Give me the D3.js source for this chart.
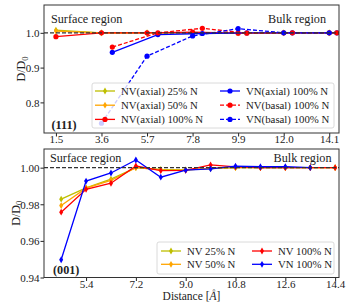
<!DOCTYPE html>
<html>
<head>
<meta charset="utf-8">
<script src="https://cdn.jsdelivr.net/npm/d3@7"></script>
<style>
  body { margin: 0; background: #fff; }
  svg text { font-family: "Liberation Serif", "Times New Roman", serif; fill: #222; }
</style>
</head>
<body>
<svg id="chart" width="357" height="308"></svg>
<script>
// ---- data ----
// (111) panel
const axialX = [1.5, 3.6, 5.7, 7.8, 9.9, 12.0, 14.1]
const basalX = [4.1, 6.2, 8.25, 10.3, 12.4, 14.45]
const vnBasalX = [3.6, 5.7, 7.8, 9.9, 12.0, 14.1]
const nvAxial25 = [1.008, 1.0, 1.0, 1.0, 1.0, 1.0, 1.0]
const nvAxial50 = [1.005, 1.0, 1.0, 1.0, 1.0, 1.0, 1.0]
const nvAxial100 = [0.989, 1.0, 1.0, 1.002, 0.999, 1.0, 1.0]
const vnAxial100 = [0.944, 0.995, 0.998, 1.0, 1.0, 1.0]
const nvBasal100 = [0.959, 1.0, 1.013, 0.999, 1.0, 1.0]
const vnBasal100 = [0.74, 0.933, 0.991, 1.012, 1.0, 1.0]
const ticks111 = [1.5, 3.6, 5.7, 7.8, 9.9, 12.0, 14.1]
const yTicks111 = [0.8, 0.9, 1.0]

// (001) panel
const x001 = [4.5, 5.4, 6.3, 7.2, 8.1, 9.0, 9.9, 10.8, 11.7, 12.6, 13.5, 14.4]
const nv25 = [0.9828, 0.989, 0.9937, 1.0, 0.999, 0.9988, 0.9995, 1.0, 1.0, 1.0, 1.0, 1.0]
const nv50 = [0.9793, 0.9888, 0.993, 1.0, 0.9988, 0.9987, 0.9997, 1.0, 1.0, 1.0, 1.0, 1.0]
const nv100 = [0.9757, 0.9882, 0.9915, 1.0009, 0.9984, 0.9985, 1.0015, 1.0004, 1.0, 1.0, 1.0, 1.0]
const vn100 = [0.9497, 0.9927, 0.9971, 1.0042, 0.9948, 0.9987, 0.9993, 1.0008, 1.0005, 1.0006, 1.0]
const ticks001 = [5.4, 7.2, 9.0, 10.8, 12.6, 14.4]
const yTicks001 = [0.94, 0.96, 0.98, 1.00]

const OLIVE = "#bfbf00", ORANGE = "#ffa500", RED = "#ff0000", BLUE = "#0000ff"

const svg = d3.select("#chart")

const zip = (xs, ys) => ys.map((y, i) => [xs[i], y])

drawPanel = function (p) {
    const x = d3.scaleLinear().domain(p.xDomain).range([44, 339])
    const y = d3.scaleLinear().domain(p.yDomain).range([p.bottom, p.top])
    const g = svg.append("g")
    const clipId = "clip" + p.top

    g.append("clipPath").attr("id", clipId)
      .append("rect")
      .attr("x", 44).attr("y", p.top)
      .attr("width", 295).attr("height", p.bottom - p.top)

    const plot = g.append("g").attr("clip-path", "url(#" + clipId + ")")
    const line = d3.line().x(d => x(d[0])).y(d => y(d[1]))

    p.series.forEach(s => {
        const pts = zip(s.x, s.y)
        plot.append("path")
          .attr("d", line(pts))
          .attr("fill", "none")
          .attr("stroke", s.color)
          .attr("stroke-width", 1.3)
          .attr("stroke-dasharray", s.dashed ? "4,2" : null)
        pts.forEach(d => drawMarker(plot, x(d[0]), y(d[1]), s))
    })

    // reference line at 1
    plot.append("line")
      .attr("x1", 44).attr("x2", 339)
      .attr("y1", y(1)).attr("y2", y(1))
      .attr("stroke", "#333")
      .attr("stroke-width", 1.2)
      .attr("stroke-dasharray", "4,2")

    // axes
    const xAxis = d3.axisBottom(x).tickValues(p.xTicks).tickSize(3.5)
      .tickFormat(d3.format(".1f"))
    const gx = g.append("g").attr("transform", "translate(0," + p.bottom + ")").call(xAxis)
    gx.selectAll("text").attr("y", 10).attr("dy", 0)
    const yAxis = d3.axisLeft(y).tickValues(p.yTicks).tickSize(3.5)
      .tickFormat(d3.format(p.yFormat))
    const gy = g.append("g").attr("transform", "translate(44,0)").call(yAxis)
    gy.selectAll("text").attr("x", -4.5).attr("dy", "0.34em")
    ;[gx, gy].forEach(a => {
        a.select(".domain").remove()
        a.selectAll("line").attr("stroke", "#222")
        a.selectAll("text").attr("font-size", 11).attr("fill", "#222")
          .style("font-family", "Liberation Serif")
    })

    g.append("rect")
      .attr("x", 44).attr("y", p.top)
      .attr("width", 295).attr("height", p.bottom - p.top)
      .attr("fill", "none").attr("stroke", "#333").attr("stroke-width", 1)

    // region labels
    g.append("text").attr("x", p.surfX).attr("y", p.top + p.regionDy)
      .attr("font-size", 12.2).text("Surface region")
    g.append("text").attr("x", p.bulkX).attr("y", p.top + p.regionDy)
      .attr("font-size", 12.2).attr("text-anchor", "end").text("Bulk region")
    g.append("text").attr("x", p.tagX).attr("y", p.tagY)
      .attr("font-size", 12.2).attr("font-weight", "bold").text(p.tag)

    // y label
    const yl = g.append("text")
      .attr("transform", "translate(" + p.ylabelX + "," + ((p.top + p.bottom) / 2) + ") rotate(-90)")
      .attr("text-anchor", "middle").attr("font-size", 12)
    yl.append("tspan").text("D/D")
    yl.append("tspan").attr("font-size", 8.5).attr("dy", 2.5).text("0")

    // legend
    const lg = g.append("g")
    lg.append("rect")
      .attr("x", p.legend.x).attr("y", p.legend.y)
      .attr("width", p.legend.w).attr("height", p.legend.h)
      .attr("rx", 2)
      .attr("fill", "#fff").attr("fill-opacity", 0.8)
      .attr("stroke", "#d0d0d0").attr("stroke-width", 0.8)
    p.series.forEach((s, i) => {
        const col = Math.floor(i / p.legend.rows)
        const row = i % p.legend.rows
        const lx = p.legend.colX[col]
        const ly = p.legend.y + p.legend.firstDy + row * p.legend.rowH
        lg.append("line")
          .attr("x1", lx).attr("x2", lx + 20)
          .attr("y1", ly).attr("y2", ly)
          .attr("stroke", s.color).attr("stroke-width", 1.3)
          .attr("stroke-dasharray", s.dashed ? "4,2" : null)
        drawMarker(lg, lx + 10, ly, s)
        lg.append("text")
          .attr("x", lx + 26).attr("y", ly + 3.6)
          .attr("font-size", 10.8).text(s.name)
    })
}

drawMarker = function (sel, cx, cy, s) {
    if (s.marker === "o") {
        sel.append("circle").attr("cx", cx).attr("cy", cy).attr("r", 2.6)
          .attr("fill", s.color)
    } else {
        sel.append("path")
          .attr("d", "M" + cx + "," + (cy - 3.4) + "L" + (cx + 2) + "," + cy +
                "L" + cx + "," + (cy + 3.4) + "L" + (cx - 2) + "," + cy + "Z")
          .attr("fill", s.color)
    }
}

drawPanel({
    top: 5, bottom: 133,
    xDomain: [0.95, 14.55], yDomain: [0.712, 1.08],
    xTicks: ticks111, yTicks: yTicks111, yFormat: ".1f",
    tag: "(111)", tagX: 51.5, tagY: 129.3,
    surfX: 51, bulkX: 326, regionDy: 17.5, ylabelX: 25,
    series: [
        {name: "NV(axial) 25% N", x: axialX, y: nvAxial25, color: OLIVE, marker: "d"},
        {name: "NV(axial) 50% N", x: axialX, y: nvAxial50, color: ORANGE, marker: "d"},
        {name: "NV(axial) 100% N", x: axialX, y: nvAxial100, color: RED, marker: "o"},
        {name: "VN(axial) 100% N", x: basalX, y: vnAxial100, color: BLUE, marker: "o"},
        {name: "NV(basal) 100% N", x: basalX, y: nvBasal100, color: RED, marker: "o", dashed: true},
        {name: "VN(basal) 100% N", x: vnBasalX, y: vnBasal100, color: BLUE, marker: "o", dashed: true}
    ],
    legend: {x: 92, y: 83, w: 242, h: 45, rows: 3, firstDy: 8, rowH: 14.2, colX: [95, 220]}
})

drawPanel({
    top: 149, bottom: 277.5,
    xDomain: [3.88, 14.54], yDomain: [0.94, 1.0102],
    xTicks: ticks001, yTicks: yTicks001, yFormat: ".2f",
    tag: "(001)", tagX: 53, tagY: 273.5,
    surfX: 50, bulkX: 331.5, regionDy: 13, ylabelX: 19.5,
    series: [
        {name: "NV 25% N", x: x001, y: nv25, color: OLIVE, marker: "d"},
        {name: "NV 50% N", x: x001, y: nv50, color: ORANGE, marker: "d"},
        {name: "NV 100% N", x: x001, y: nv100, color: RED, marker: "d"},
        {name: "VN 100% N", x: x001, y: vn100, color: BLUE, marker: "d"}
    ],
    legend: {x: 157, y: 242, w: 177, h: 32, rows: 2, firstDy: 9, rowH: 13.3, colX: [161, 252]}
})

const xl = svg.append("text")
  .attr("x", 191.5).attr("y", 299.5)
  .attr("text-anchor", "middle").attr("font-size", 11.5)
xl.append("tspan").text("Distance [")
xl.append("tspan").attr("font-style", "italic").text("Å")
xl.append("tspan").text("]")
</script>
</body>
</html>
